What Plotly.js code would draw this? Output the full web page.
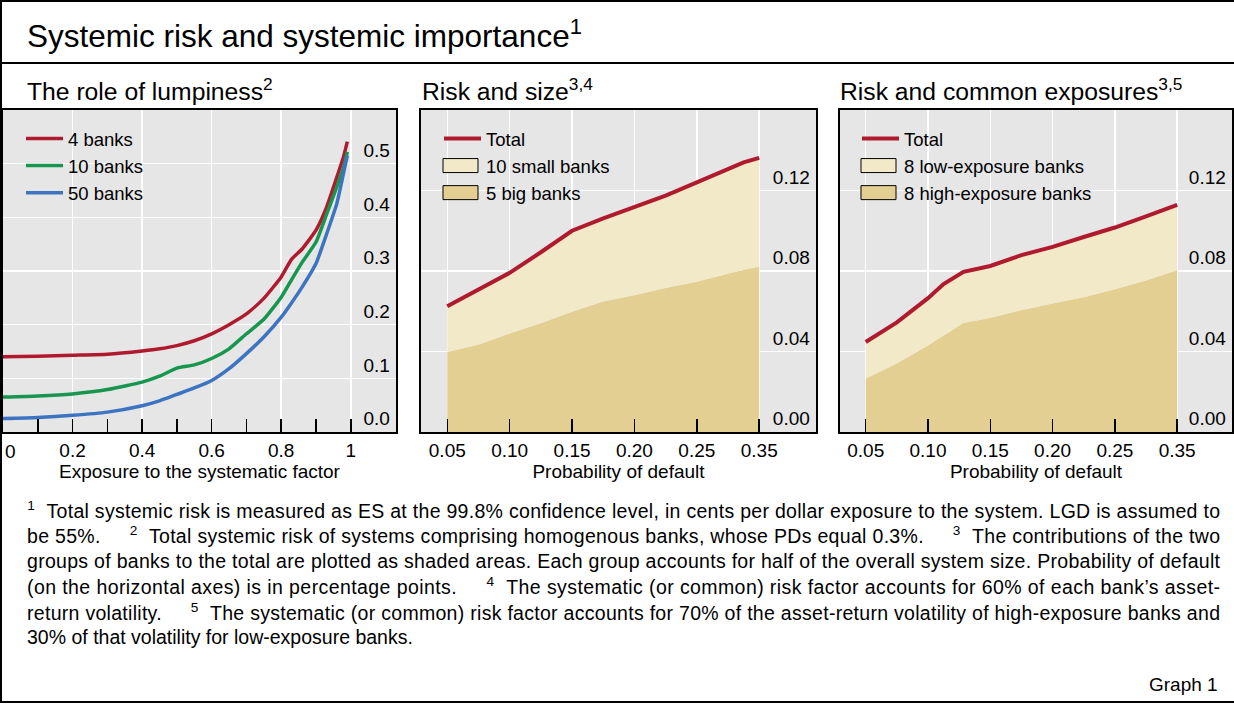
<!DOCTYPE html>
<html><head><meta charset="utf-8">
<script src="https://cdn.plot.ly/plotly-3.0.1.min.js"></script>
<style>body{margin:0;background:#fff}#chart{width:1234px;height:704px}</style>
</head><body><div id="chart"></div>
<script>
const W = 1234, H = 704;
const px = v => v / W, py = v => 1 - v / H;

// Panel 1: The role of lumpiness
const exposure = [0, 0.1, 0.2, 0.3, 0.4, 0.45, 0.5, 0.55, 0.6, 0.65, 0.7, 0.75, 0.8, 0.83, 0.86, 0.9, 0.93, 0.96, 0.98, 0.99];
const banks4  = [0.140, 0.141, 0.143, 0.145, 0.151, 0.155, 0.161, 0.170, 0.183, 0.200, 0.220, 0.249, 0.289, 0.322, 0.341, 0.376, 0.418, 0.475, 0.515, 0.541];
const banks10 = [0.065, 0.067, 0.071, 0.079, 0.093, 0.104, 0.119, 0.125, 0.137, 0.155, 0.183, 0.210, 0.251, 0.284, 0.316, 0.354, 0.405, 0.457, 0.495, 0.522];
const banks50 = [0.025, 0.027, 0.031, 0.037, 0.049, 0.058, 0.070, 0.082, 0.096, 0.118, 0.146, 0.177, 0.214, 0.241, 0.270, 0.314, 0.368, 0.426, 0.485, 0.515];
const exposureTicks = [0, 0.2, 0.4, 0.6, 0.8, 1];
const exposureTickText = ['0', '0.2', '0.4', '0.6', '0.8', '1'];
const exposureMinor = [0.1, 0.3, 0.5, 0.7, 0.9];
const riskTicks1 = [0, 0.1, 0.2, 0.3, 0.4, 0.5];
const riskTickText1 = ['0.0', '0.1', '0.2', '0.3', '0.4', '0.5'];

// Panels 2 and 3: probability of default (evenly spaced labels)
const pdLabels = ['0.05', '0.10', '0.15', '0.20', '0.25', '0.35'];
const pdTickPos = [0, 1, 2, 3, 4, 5];
const riskTicks2 = [0, 0.04, 0.08, 0.12];
const riskTickText2 = ['0.00', '0.04', '0.08', '0.12'];

// Panel 2: Risk and size
const sizePos   = [0, 0.5, 1, 1.5, 2, 2.5, 3, 3.5, 4, 4.5, 4.75, 5];
const sizeTotal = [0.0625, 0.0708, 0.0791, 0.0893, 0.1000, 0.1062, 0.1117, 0.1175, 0.1240, 0.1308, 0.1340, 0.1362];
const sizeBig   = [0.0398, 0.0433, 0.0490, 0.0540, 0.0597, 0.0648, 0.0680, 0.0715, 0.0746, 0.0788, 0.0806, 0.0821];

// Panel 3: Risk and common exposures
const expoPos   = [0, 0.5, 1, 1.25, 1.57, 2, 2.5, 3, 3.5, 4, 4.5, 5];
const expoTotal = [0.0447, 0.0545, 0.0665, 0.0735, 0.0796, 0.0825, 0.0879, 0.0920, 0.0969, 0.1016, 0.1072, 0.1128];
const expoHigh  = [0.0265, 0.0340, 0.0430, 0.0480, 0.0542, 0.0566, 0.0605, 0.0639, 0.0670, 0.0709, 0.0753, 0.0804];

const FONT = 'Liberation Sans, Arial, Helvetica, sans-serif';
const RED = '#b01a2e', GREEN = '#17964f', BLUE = '#3c74c2';
const LIGHT = '#f2e9c8', DARK = '#e3cf92', BG = '#e6e6e6';

const smooth = {color: RED, width: 3.5, shape: 'spline', smoothing: 0.5};
const traces = [
  {x: exposure, y: banks4, name: '4 banks', mode: 'lines', line: Object.assign({}, smooth, {color: RED}), xaxis: 'x', yaxis: 'y', legend: 'legend', legendrank: 1},
  {x: exposure, y: banks10, name: '10 banks', mode: 'lines', line: Object.assign({}, smooth, {color: GREEN}), xaxis: 'x', yaxis: 'y', legend: 'legend', legendrank: 2},
  {x: exposure, y: banks50, name: '50 banks', mode: 'lines', line: Object.assign({}, smooth, {color: BLUE}), xaxis: 'x', yaxis: 'y', legend: 'legend', legendrank: 3},

  {x: sizePos, y: sizeBig, mode: 'lines', fill: 'tozeroy', fillcolor: DARK, line: {width: 0, color: DARK}, xaxis: 'x2', yaxis: 'y2', showlegend: false, hoverinfo: 'skip'},
  {x: sizePos, y: sizeTotal, mode: 'lines', fill: 'tonexty', fillcolor: LIGHT, line: {width: 0, color: LIGHT}, xaxis: 'x2', yaxis: 'y2', showlegend: false, hoverinfo: 'skip'},
  {x: sizePos, y: sizeTotal, name: 'Total', mode: 'lines', line: {color: RED, width: 4}, xaxis: 'x2', yaxis: 'y2', legend: 'legend2', legendrank: 1},
  {x: [null], y: [null], name: '10 small banks', mode: 'lines', fill: 'toself', fillcolor: LIGHT, line: {color: LIGHT, width: 0}, xaxis: 'x2', yaxis: 'y2', legend: 'legend2', legendrank: 2},
  {x: [null], y: [null], name: '5 big banks', mode: 'lines', fill: 'toself', fillcolor: DARK, line: {color: DARK, width: 0}, xaxis: 'x2', yaxis: 'y2', legend: 'legend2', legendrank: 3},

  {x: expoPos, y: expoHigh, mode: 'lines', fill: 'tozeroy', fillcolor: DARK, line: {width: 0, color: DARK}, xaxis: 'x3', yaxis: 'y3', showlegend: false, hoverinfo: 'skip'},
  {x: expoPos, y: expoTotal, mode: 'lines', fill: 'tonexty', fillcolor: LIGHT, line: {width: 0, color: LIGHT}, xaxis: 'x3', yaxis: 'y3', showlegend: false, hoverinfo: 'skip'},
  {x: expoPos, y: expoTotal, name: 'Total', mode: 'lines', line: {color: RED, width: 4}, xaxis: 'x3', yaxis: 'y3', legend: 'legend3', legendrank: 1},
  {x: [null], y: [null], name: '8 low-exposure banks', mode: 'lines', fill: 'toself', fillcolor: LIGHT, line: {color: LIGHT, width: 0}, xaxis: 'x3', yaxis: 'y3', legend: 'legend3', legendrank: 2},
  {x: [null], y: [null], name: '8 high-exposure banks', mode: 'lines', fill: 'toself', fillcolor: DARK, line: {color: DARK, width: 0}, xaxis: 'x3', yaxis: 'y3', legend: 'legend3', legendrank: 3}
];

const tickFont = {family: FONT, size: 19, color: '#000'};
function xAxis(domain, range, tickvals, ticktext, title, minor) {
  const a = {
    domain: domain, range: range, tickmode: 'array', tickvals: tickvals, ticktext: ticktext,
    ticks: 'inside', ticklen: 13, tickwidth: 1.5, tickcolor: '#000', tickfont: tickFont,
    showgrid: true, gridcolor: '#ffffff', gridwidth: 1.5, zeroline: false,
    showline: true, mirror: true, linecolor: '#000', linewidth: 2,
    title: {text: title, font: {family: FONT, size: 19, color: '#000'}, standoff: 1},
    automargin: false, fixedrange: true
  };
  if (minor) a.minor = {tickmode: 'array', tickvals: minor, ticks: 'inside', ticklen: 13, tickwidth: 1.5, tickcolor: '#000', showgrid: false};
  return a;
}
function yAxis(domain, range, tickvals, ticktext, anchor) {
  return {
    domain: domain, range: range, side: 'right', anchor: anchor, tickmode: 'array', tickvals: tickvals, ticktext: ticktext,
    ticks: '', ticklabelposition: 'inside top', ticklabelstandoff: 6, tickfont: tickFont,
    showgrid: true, gridcolor: '#ffffff', gridwidth: 1.5, zeroline: false,
    showline: true, mirror: true, linecolor: '#000', linewidth: 2, automargin: false, fixedrange: true
  };
}
const yDom = [py(432), py(110)];
const legendBase = {bgcolor: 'rgba(0,0,0,0)', borderwidth: 0, font: {family: FONT, size: 18.5, color: '#000'}, xanchor: 'left', yanchor: 'top', itemwidth: 37, tracegroupgap: 0, traceorder: 'normal'};

const annFont = s => ({family: FONT, size: s, color: '#000'});
const ann = (text, x, y, size, anchor) => ({text: text, x: px(x), y: py(y), xref: 'paper', yref: 'paper', xanchor: anchor || 'left', yanchor: 'middle', showarrow: false, font: annFont(size), align: anchor === 'right' ? 'right' : 'left'});
const G = '\u00A0\u00A0\u00A0\u00A0\u00A0';
const notes = [
  '<sup>1</sup>\u00A0 Total systemic risk is measured as ES at the 99.8% confidence level, in cents per dollar exposure to the system. LGD is assumed to',
  'be 55%.' + G + '<sup>2</sup>\u00A0 Total systemic risk of systems comprising homogenous banks, whose PDs equal 0.3%.' + G + '<sup>3</sup>\u00A0 The contributions of the two',
  'groups of banks to the total are plotted as shaded areas. Each group accounts for half of the overall system size. Probability of default',
  '(on the horizontal axes) is in percentage points.' + G + '<sup>4</sup>\u00A0 The systematic (or common) risk factor accounts for 60% of each bank\u2019s asset-',
  'return volatility.' + G + '<sup>5</sup>\u00A0 The systematic (or common) risk factor accounts for 70% of the asset-return volatility of high-exposure banks and',
  '30% of that volatility for low-exposure banks.'
];
const noteY = [509.5, 535, 560.5, 586, 611.5, 637];

const annotations = [
  ann('Systemic risk and systemic importance<sup>1</sup>', 25, 34, 31.5),
  ann('The role of lumpiness<sup>2</sup>', 25, 89, 24.7),
  ann('Risk and size<sup>3,4</sup>', 420, 89, 24.7),
  ann('Risk and common exposures<sup>3,5</sup>', 838, 89, 24.7),
  ann('Graph 1', 1220, 684, 19, 'right'),
  // first x tick label of panel 1, nudged inside the frame as in the original
  {text: exposureTickText[0], x: exposureTicks[0], xref: 'x', y: py(451), yref: 'paper', xanchor: 'left', yanchor: 'middle', xshift: 0, showarrow: false, font: tickFont}
];
const NOTE_START = annotations.length;
notes.forEach((t, i) => annotations.push(ann(t, 25, noteY[i], 19.5)));

const xa1TickText = exposureTickText.map((t, i) => i === 0 ? '' : t);

const layout = {
  width: W, height: H, autosize: false,
  margin: {l: 0, r: 0, t: 0, b: 0, pad: 0},
  paper_bgcolor: '#ffffff', plot_bgcolor: BG,
  font: {family: FONT, color: '#000'},
  showlegend: true,
  xaxis: xAxis([px(3), px(396)], [0, 1.13], exposureTicks, xa1TickText, 'Exposure to the systematic factor', exposureMinor),
  yaxis: yAxis(yDom, [0, 0.6], riskTicks1, riskTickText1, 'x'),
  xaxis2: xAxis([px(421), px(816)], [-0.421, 5.91], pdTickPos, pdLabels, 'Probability of default'),
  yaxis2: yAxis(yDom, [0, 0.16], riskTicks2, riskTickText2, 'x2'),
  xaxis3: xAxis([px(840), px(1232)], [-0.4125, 5.88], pdTickPos, pdLabels, 'Probability of default'),
  yaxis3: yAxis(yDom, [0, 0.16], riskTicks2, riskTickText2, 'x3'),
  legend: Object.assign({}, legendBase, {x: px(21), y: py(120)}),
  legend2: Object.assign({}, legendBase, {x: px(439), y: py(120)}),
  legend3: Object.assign({}, legendBase, {x: px(857), y: py(120)}),
  annotations: annotations,
  shapes: [
    {type: 'rect', xref: 'paper', yref: 'paper', x0: px(1), x1: px(1240), y0: py(1), y1: py(702), line: {color: '#000', width: 2}, fillcolor: 'rgba(0,0,0,0)', layer: 'above'},
    {type: 'line', xref: 'paper', yref: 'paper', x0: px(0), x1: px(1234), y0: py(63), y1: py(63), line: {color: '#000', width: 2}, layer: 'above'}
  ]
};

layout.xaxis.anchor = 'y';
layout.xaxis2.anchor = 'y2';
layout.xaxis3.anchor = 'y3';

Plotly.newPlot('chart', traces, layout, {staticPlot: true, displayModeBar: false}).then(function (gd) {
  // legend swatches for the shaded areas: boxed rectangles
  gd.querySelectorAll('.infolayer .traces').forEach(function (g) {
    var fill = g.querySelector('.legendfill path');
    if (fill) {
      fill.setAttribute('d', 'M4,-7h35v14h-35z');
      fill.style.stroke = '#000';
      fill.style.strokeWidth = '1px';
      fill.style.opacity = '1';
    }
  });
  // justify footnote lines (all but the last) to the text block width
  for (var i = 0; i < notes.length - 1; i++) {
    var t = gd.querySelector('.annotation[data-index="' + (NOTE_START + i) + '"] text.annotation-text');
    if (t) {
      t.setAttribute('textLength', '1193');
      t.setAttribute('lengthAdjust', 'spacing');
    }
  }
});
</script>
</body></html>
